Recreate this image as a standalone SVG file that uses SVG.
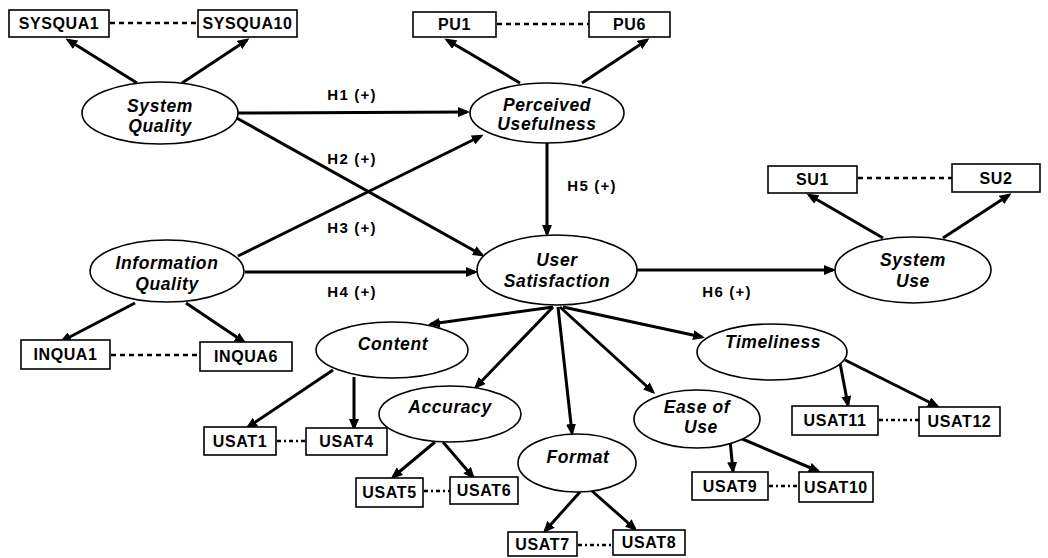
<svg xmlns="http://www.w3.org/2000/svg" width="1048" height="558" viewBox="0 0 1048 558">
<style>
.bg{fill:#ffffff}
.box{fill:#ffffff;stroke:#000;stroke-width:1.6}
.ell{fill:#ffffff;stroke:#000;stroke-width:1.6}
.bt{font-family:"Liberation Sans",Arial,sans-serif;font-weight:bold;font-size:16px;letter-spacing:0.6px;text-anchor:middle;fill:#000}
.et{font-family:"Liberation Sans",Arial,sans-serif;font-weight:bold;font-style:italic;font-size:17.5px;letter-spacing:0.6px;text-anchor:middle;fill:#000}
.ht{font-family:"Liberation Sans",Arial,sans-serif;font-weight:bold;font-size:15px;letter-spacing:1.2px;text-anchor:middle;fill:#000}
.ar{stroke:#000;stroke-width:3;fill:none;marker-end:url(#ah)}
.dl{stroke:#000;stroke-width:2.3;stroke-dasharray:5,4;fill:none}
.dd{stroke:#000;stroke-width:2.3;stroke-dasharray:4,3,2,3;fill:none}
</style>
<defs>
<marker id="ah" markerUnits="userSpaceOnUse" markerWidth="12" markerHeight="10" refX="9" refY="5" orient="auto">
<path d="M0,0 L12,5 L0,10 z" fill="#000"/>
</marker>
</defs>
<rect class="bg" x="0" y="0" width="1048" height="558"/>

<g id="connectors">
<line class="ar" x1="137" y1="83" x2="68" y2="40"/>
<line class="ar" x1="182" y1="83" x2="247" y2="40"/>
<line class="ar" x1="520" y1="83" x2="447" y2="40"/>
<line class="ar" x1="582" y1="83" x2="647" y2="40"/>
<line class="ar" x1="883" y1="238" x2="809" y2="195"/>
<line class="ar" x1="943" y1="238" x2="1009" y2="195"/>
<line class="ar" x1="135" y1="303" x2="62" y2="341"/>
<line class="ar" x1="186" y1="303" x2="244" y2="342"/>
<line class="ar" x1="236" y1="113" x2="467" y2="112"/>
<line class="ar" x1="233" y1="116" x2="482" y2="255"/>
<line class="ar" x1="238" y1="256" x2="481" y2="136"/>
<line class="ar" x1="245" y1="272" x2="475" y2="272"/>
<line class="ar" x1="547" y1="143" x2="547" y2="234"/>
<line class="ar" x1="637" y1="270" x2="833" y2="270"/>
<line class="ar" x1="553" y1="307" x2="431" y2="324"/>
<line class="ar" x1="553" y1="307" x2="476" y2="387"/>
<line class="ar" x1="558" y1="307" x2="572" y2="433"/>
<line class="ar" x1="560" y1="307" x2="653" y2="392"/>
<line class="ar" x1="563" y1="307" x2="702" y2="337"/>
<line class="ar" x1="333" y1="370" x2="248" y2="427"/>
<line class="ar" x1="354" y1="377" x2="354" y2="428"/>
<line class="ar" x1="435" y1="442" x2="393" y2="477"/>
<line class="ar" x1="443" y1="442" x2="473" y2="477"/>
<line class="ar" x1="580" y1="492" x2="545" y2="531"/>
<line class="ar" x1="592" y1="491" x2="635" y2="529"/>
<line class="ar" x1="730" y1="440" x2="733" y2="471"/>
<line class="ar" x1="740" y1="438" x2="818" y2="471"/>
<line class="ar" x1="840" y1="363" x2="848" y2="405"/>
<line class="ar" x1="845" y1="360" x2="937" y2="406"/>
<line class="dl" x1="110" y1="23" x2="198" y2="23"/>
<line class="dl" x1="497" y1="24" x2="589" y2="24"/>
<line class="dl" x1="858" y1="178" x2="952" y2="178"/>
<line class="dl" x1="111" y1="355" x2="200" y2="355"/>
<line class="dd" x1="277" y1="441" x2="306" y2="441"/>
<line class="dd" x1="424" y1="491" x2="450" y2="491"/>
<line class="dd" x1="578" y1="545" x2="613" y2="545"/>
<line class="dd" x1="769" y1="486" x2="799" y2="486"/>
<line class="dd" x1="879" y1="420" x2="919" y2="420"/>
<text class="ht" x="352" y="100">H1 (+)</text>
<text class="ht" x="352" y="164">H2 (+)</text>
<text class="ht" x="352" y="233">H3 (+)</text>
<text class="ht" x="352" y="297">H4 (+)</text>
<text class="ht" x="592" y="191">H5 (+)</text>
<text class="ht" x="727" y="297">H6 (+)</text>
</g>

<g id="sysqual"><ellipse class="ell" cx="160" cy="113" rx="78" ry="31"/><text class="et" x="160" y="112">System</text><text class="et" x="160" y="132">Quality</text></g>
<g id="pu"><ellipse class="ell" cx="547" cy="113" rx="77" ry="30"/><text class="et" x="547" y="111">Perceived</text><text class="et" x="547" y="130">Usefulness</text></g>
<g id="infqual"><ellipse class="ell" cx="167" cy="271" rx="77" ry="31"/><text class="et" x="167" y="269">Information</text><text class="et" x="167" y="290">Quality</text></g>
<g id="usersat"><ellipse class="ell" cx="557" cy="270" rx="80" ry="35"/><text class="et" x="557" y="266">User</text><text class="et" x="557" y="287">Satisfaction</text></g>
<g id="sysuse"><ellipse class="ell" cx="913" cy="270" rx="78" ry="33"/><text class="et" x="913" y="266">System</text><text class="et" x="913" y="287">Use</text></g>
<g id="content"><ellipse class="ell" cx="392" cy="350" rx="76" ry="28"/><text class="et" x="393" y="350">Content</text></g>
<g id="accuracy"><ellipse class="ell" cx="450" cy="414" rx="71" ry="28"/><text class="et" x="450" y="413">Accuracy</text></g>
<g id="format"><ellipse class="ell" cx="577" cy="463" rx="59" ry="29"/><text class="et" x="578" y="463">Format</text></g>
<g id="easeofuse"><ellipse class="ell" cx="697" cy="419" rx="63" ry="29"/><text class="et" x="697" y="413">Ease of</text><text class="et" x="701" y="433">Use</text></g>
<g id="timeliness"><ellipse class="ell" cx="772" cy="352" rx="75" ry="28"/><text class="et" x="773" y="348">Timeliness</text></g>

<g id="sysqua1"><rect class="box" x="9" y="10" width="100" height="27"/><text class="bt" x="59" y="29">SYSQUA1</text></g>
<g id="sysqua10"><rect class="box" x="198" y="10" width="99" height="27"/><text class="bt" x="247.5" y="29">SYSQUA10</text></g>
<g id="pu1"><rect class="box" x="413" y="12" width="83" height="25"/><text class="bt" x="454.5" y="30">PU1</text></g>
<g id="pu6"><rect class="box" x="589" y="12" width="81" height="25"/><text class="bt" x="629.5" y="30">PU6</text></g>
<g id="su1"><rect class="box" x="768" y="166" width="89" height="27"/><text class="bt" x="812.5" y="185">SU1</text></g>
<g id="su2"><rect class="box" x="952" y="164" width="88" height="28"/><text class="bt" x="996" y="183.5">SU2</text></g>
<g id="inqua1"><rect class="box" x="21" y="340" width="89" height="29"/><text class="bt" x="65.5" y="360">INQUA1</text></g>
<g id="inqua6"><rect class="box" x="200" y="342" width="92" height="29"/><text class="bt" x="246" y="362">INQUA6</text></g>
<g id="usat1"><rect class="box" x="204" y="427" width="72" height="28"/><text class="bt" x="240" y="446.5">USAT1</text></g>
<g id="usat4"><rect class="box" x="306" y="428" width="81" height="27"/><text class="bt" x="346.5" y="447">USAT4</text></g>
<g id="usat5"><rect class="box" x="356" y="478" width="67" height="29"/><text class="bt" x="389.5" y="498">USAT5</text></g>
<g id="usat6"><rect class="box" x="450" y="477" width="68" height="27"/><text class="bt" x="484" y="496">USAT6</text></g>
<g id="usat7"><rect class="box" x="508" y="532" width="69" height="24"/><text class="bt" x="542.5" y="550">USAT7</text></g>
<g id="usat8"><rect class="box" x="613" y="530" width="72" height="25"/><text class="bt" x="649" y="548">USAT8</text></g>
<g id="usat9"><rect class="box" x="692" y="472" width="76" height="28"/><text class="bt" x="730" y="491.5">USAT9</text></g>
<g id="usat10"><rect class="box" x="799" y="472" width="74" height="30"/><text class="bt" x="836" y="492.5">USAT10</text></g>
<g id="usat11"><rect class="box" x="792" y="406" width="86" height="29"/><text class="bt" x="835" y="426">USAT11</text></g>
<g id="usat12"><rect class="box" x="919" y="407" width="81" height="29"/><text class="bt" x="959.5" y="427">USAT12</text></g>
</svg>
